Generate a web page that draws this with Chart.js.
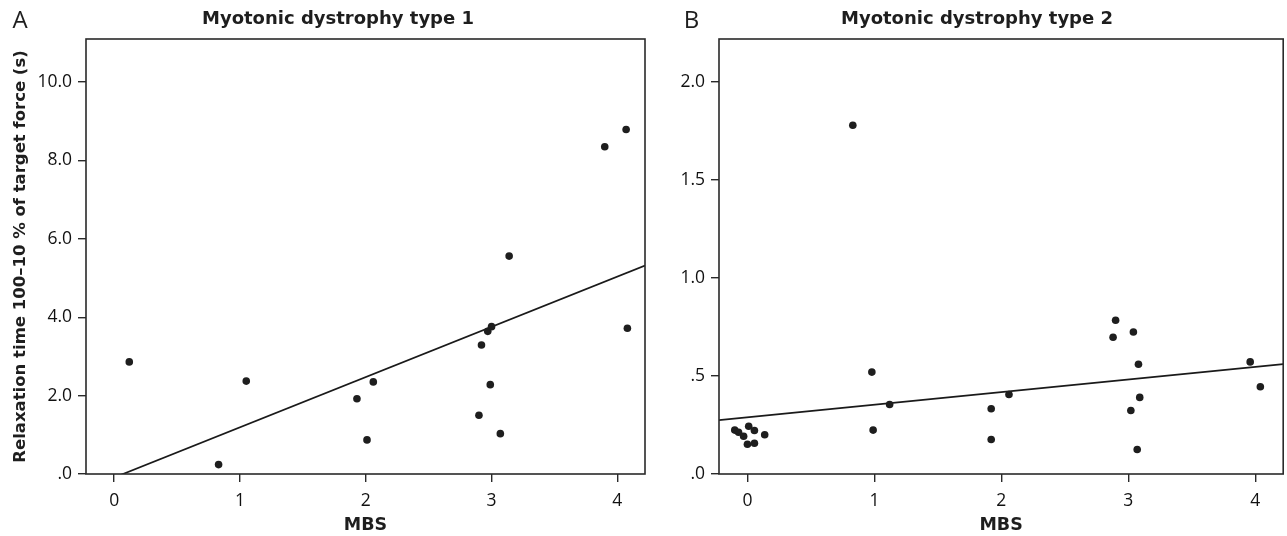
<!DOCTYPE html>
<html>
<head>
<meta charset="utf-8">
<script src="https://cdn.jsdelivr.net/npm/chart.js@4.4.1/dist/chart.umd.min.js"></script>
<style>
  html, body { margin: 0; padding: 0; background: #ffffff; }
  body { width: 1287px; height: 536px; position: relative; overflow: hidden; }
  canvas { position: absolute; top: 0; }
  #c1 { left: 0px; }
  #c2 { left: 667px; }
</style>
</head>
<body>
<canvas id="c1" width="676" height="536"></canvas>
<canvas id="c2" width="620" height="536"></canvas>
<script>
// ---------- data ----------
const panelLetters = ["A", "B"];
const panelTitles = ["Myotonic dystrophy type 1", "Myotonic dystrophy type 2"];
const xAxisTitle = "MBS";
const yAxisTitle = "Relaxation time 100\u201310 % of target force (s)";

// DM1 (panel A)
const dm1MBS = [0.12, 0.83, 1.05, 1.93, 2.01, 2.06, 2.90, 2.92, 2.97, 3.00, 2.99, 3.07, 4.08, 3.14, 3.90, 4.07];
const dm1Relax = [2.86, 0.24, 2.37, 1.92, 0.87, 2.35, 1.50, 3.29, 3.64, 3.76, 2.28, 1.03, 3.72, 5.56, 8.35, 8.79];

// DM2 (panel B)
const dm2MBS = [-0.10, -0.07, -0.03, 0.01, 0.00, 0.055, 0.055, 0.136, 0.83, 0.98, 0.99, 1.12, 1.92, 1.92, 2.06, 2.88, 2.90, 3.04, 3.08, 3.09, 3.02, 3.07, 3.96, 4.04];
const dm2Relax = [0.224, 0.213, 0.193, 0.244, 0.152, 0.222, 0.157, 0.200, 1.78, 0.520, 0.224, 0.355, 0.333, 0.176, 0.406, 0.698, 0.785, 0.725, 0.560, 0.391, 0.324, 0.125, 0.572, 0.445];

// linear fit lines (intercept, slope) per panel
const fitIntercepts = [-0.09, 0.2895];
const fitSlopes = [1.282, 0.0643];

// axis ranges and tick values
const xRange = [-0.224, 4.22];
const xTicks = [0, 1, 2, 3, 4];
const yMaxes = [11.1, 2.22];
const yTicks1 = [0, 2, 4, 6, 8, 10];
const yTicks2 = [0, 0.5, 1.0, 1.5, 2.0];

// ---------- helpers ----------
const INK = '#1e1e1e';
const TICKFONT = "'Open Sans', 'DejaVu Sans Condensed', sans-serif";
const BOLDFONT = "'DejaVu Sans', 'Open Sans', sans-serif";

function toPoints(xs, ys) { return xs.map((x, i) => ({ x: x, y: ys[i] })); }
function fitPoints(k) {
  return [xRange[0], xRange[1]].map(x => ({ x: x, y: fitIntercepts[k] + fitSlopes[k] * x }));
}
function fmtTick(v) {
  let s = Number(v).toFixed(1);
  if (s.startsWith('0.')) s = s.slice(1);
  return s;
}

const framePlugin = {
  id: 'frame',
  afterDatasetsDraw(chart) {
    const a = chart.chartArea, ctx = chart.ctx;
    ctx.save();
    ctx.strokeStyle = '#2a2a2a';
    ctx.lineWidth = 1.6;
    ctx.strokeRect(a.left, a.top, a.right - a.left, a.bottom - a.top);
    ctx.restore();
  }
};
const letterPlugin = {
  id: 'letter',
  afterDraw(chart, args, opts) {
    const ctx = chart.ctx;
    ctx.save();
    ctx.fillStyle = INK;
    ctx.font = "24px " + TICKFONT;
    ctx.textAlign = 'center';
    ctx.textBaseline = 'middle';
    ctx.fillText(opts.text, opts.x, opts.y);
    ctx.restore();
  }
};

function makeChart(id, k, pts, yMax, yTickVals, yWidth, rightWidth) {
  const tickSet = (vals) => (scale) => { scale.ticks = vals.map(v => ({ value: v })); };
  const scales = {
    x: {
      type: 'linear',
      min: xRange[0],
      max: xRange[1],
      afterBuildTicks: tickSet(xTicks),
      afterFit: (s) => { s.height = 62; },
      border: { display: false },
      grid: { drawOnChartArea: false, drawTicks: true, tickLength: 8, color: '#2a2a2a', lineWidth: 1.4 },
      ticks: { color: '#111', font: { family: TICKFONT, size: 17.5, weight: 'normal' }, padding: 9,
               callback: (v) => String(v) },
      title: { display: true, text: xAxisTitle, color: INK,
               font: { family: BOLDFONT, size: 17.5, weight: 'bold', lineHeight: 1.2 },
               padding: { top: 0, bottom: 0 } }
    },
    y: {
      type: 'linear',
      min: 0,
      max: yMax,
      afterBuildTicks: tickSet(yTickVals),
      afterFit: (s) => { s.width = yWidth; },
      border: { display: false },
      grid: { drawOnChartArea: false, drawTicks: true, tickLength: 8, color: '#2a2a2a', lineWidth: 1.4 },
      ticks: { color: '#111', font: { family: TICKFONT, size: 17.5, weight: 'normal' }, padding: 6,
               callback: (v) => fmtTick(v) },
      title: { display: k === 0, text: yAxisTitle, color: INK,
               font: { family: BOLDFONT, size: 16.5, weight: 'bold', lineHeight: 1.2 },
               padding: { top: 11, bottom: 0 } }
    },
    yRightSpace: {
      type: 'linear',
      position: 'right',
      display: true,
      afterFit: (s) => { s.width = rightWidth; },
      border: { display: false },
      grid: { display: false },
      ticks: { display: false }
    }
  };
  return new Chart(document.getElementById(id), {
    type: 'scatter',
    data: {
      datasets: [
        {
          label: 'data',
          data: pts,
          pointRadius: 3.8,
          pointHoverRadius: 3.8,
          pointBackgroundColor: INK,
          pointBorderColor: INK,
          pointBorderWidth: 0
        },
        {
          label: 'fit',
          type: 'line',
          data: fitPoints(k),
          borderColor: '#1a1a1a',
          borderWidth: 1.7,
          pointRadius: 0,
          fill: false,
          tension: 0
        }
      ]
    },
    options: {
      responsive: false,
      animation: false,
      events: [],
      layout: { padding: 0 },
      plugins: {
        legend: { display: false },
        tooltip: { enabled: false },
        title: {
          display: true,
          text: panelTitles[k],
          color: INK,
          font: { family: BOLDFONT, size: 18, weight: 'bold', lineHeight: 1.2 },
          padding: { top: 9, bottom: 8.4 }
        },
        letter: { text: panelLetters[k], x: k === 0 ? 20 : 24.5, y: 21.5 }
      },
      scales: scales
    },
    plugins: [framePlugin, letterPlugin]
  });
}

makeChart('c1', 0, toPoints(dm1MBS, dm1Relax), yMaxes[0], yTicks1, 86, 31);
makeChart('c2', 1, toPoints(dm2MBS, dm2Relax), yMaxes[1], yTicks2, 52, 1);
</script>
</body>
</html>
